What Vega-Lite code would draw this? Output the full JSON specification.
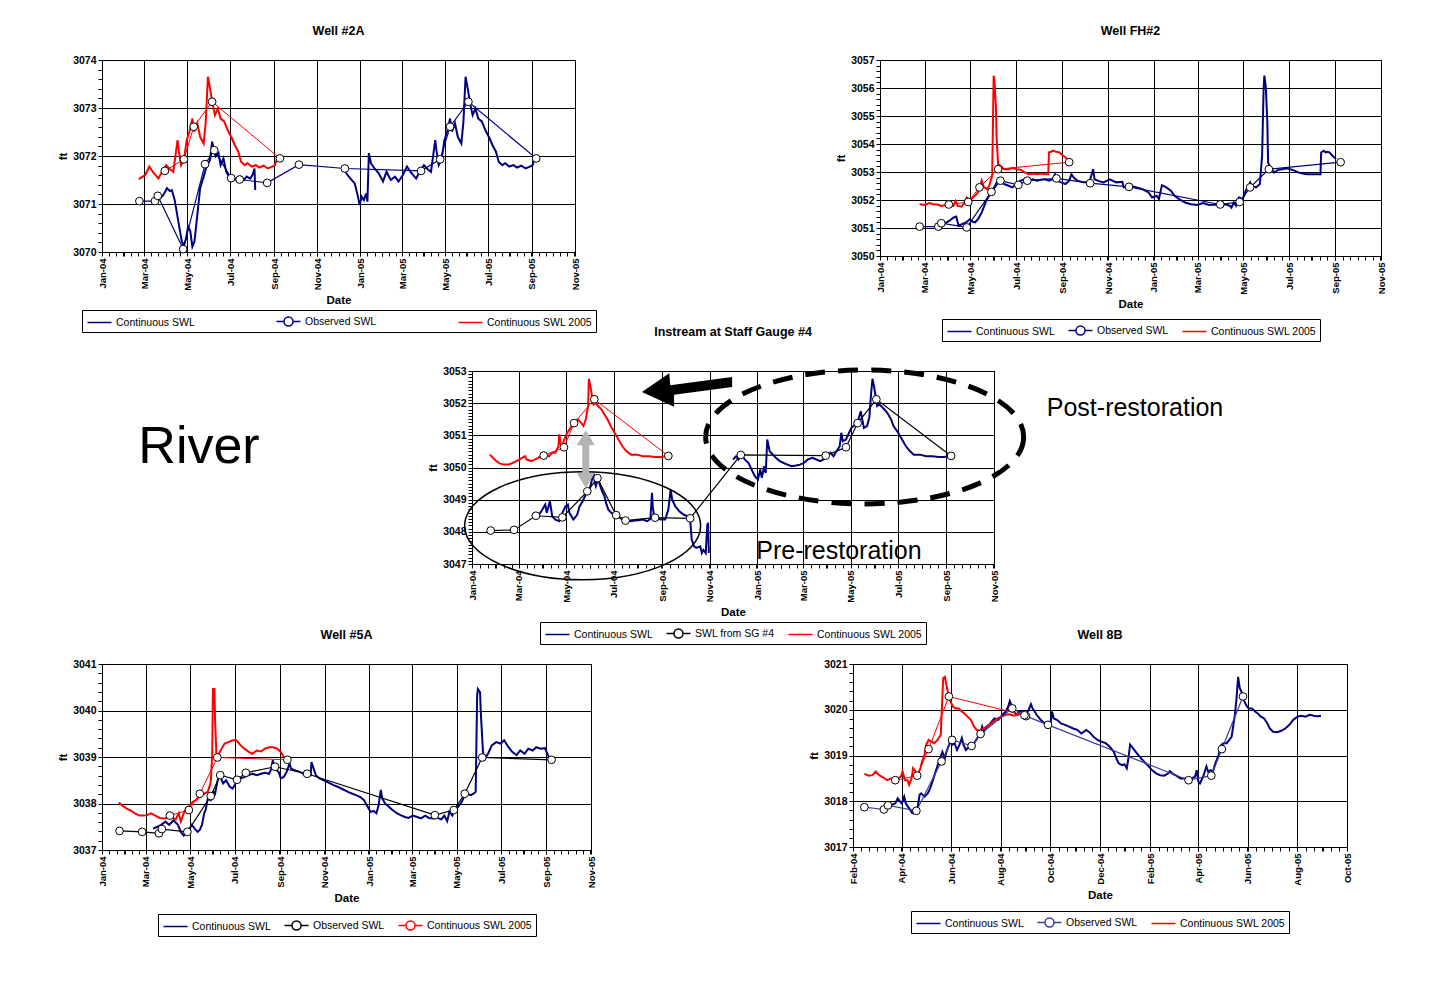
{
"$schema": "https://vega.github.io/schema/vega-lite/v6.json",
"background": "white",
"padding": {"left": 57, "top": 24, "right": 0, "bottom": 0},
"config": {
 "font": "Liberation Sans",
 "view": {"stroke": "black", "strokeWidth": 1},
 "title": {"font": "Liberation Sans", "fontSize": 12.5, "fontWeight": "bold", "color": "black", "offset": 18},
 "axis": {"labelFont": "Liberation Sans", "labelFontSize": 10.5, "labelFontWeight": "bold", "labelColor": "black", "titleFont": "Liberation Sans", "titleFontSize": 11.5, "titleFontWeight": "bold", "titleColor": "black", "domainColor": "black", "tickColor": "black", "gridColor": "black", "gridWidth": 1, "tickSize": 4, "labelPadding": 2, "titlePadding": 4},
 "axisX": {"labelFontSize": 9.5},
 "legend": {"orient": "bottom", "direction": "horizontal", "strokeColor": "black", "padding": 3, "labelFont": "Liberation Sans", "labelFontSize": 10.5, "labelColor": "black", "symbolSize": 225, "symbolStrokeWidth": 1.5, "symbolOffset": 6, "labelOffset": 8, "columnPadding": 10, "offset": 4, "symbolType": "stroke", "layout": {"bottom": {"anchor": "middle"}}}
},
"datasets": {
"w2a": [
{"d":"2004-03-21","v":3071.08,"s":"C"},{"d":"2004-03-28","v":3071.19,"s":"C"},{"d":"2004-04-02","v":3071.33,"s":"C"},{"d":"2004-04-06","v":3071.27,"s":"C"},{"d":"2004-04-09","v":3071.29,"s":"C"},{"d":"2004-04-13","v":3071.08,"s":"C"},{"d":"2004-04-19","v":3070.56,"s":"C"},{"d":"2004-04-23","v":3070.22,"s":"C"},{"d":"2004-04-26","v":3070.13,"s":"C"},{"d":"2004-04-29","v":3070.28,"s":"C"},{"d":"2004-05-02","v":3070.53,"s":"C"},{"d":"2004-05-05","v":3070.44,"s":"C"},{"d":"2004-05-08","v":3070.11,"s":"C"},{"d":"2004-05-11","v":3070.22,"s":"C"},{"d":"2004-05-15","v":3070.77,"s":"C"},{"d":"2004-05-19","v":3071.33,"s":"C"},{"d":"2004-05-24","v":3071.57,"s":"C"},{"d":"2004-05-28","v":3071.78,"s":"C"},{"d":"2004-06-02","v":3071.92,"s":"C"},{"d":"2004-06-05","v":3072.30,"s":"C"},{"d":"2004-06-08","v":3072.09,"s":"C"},{"d":"2004-06-10","v":3071.99,"s":"C"},{"d":"2004-06-14","v":3072.06,"s":"C"},{"d":"2004-06-17","v":3071.81,"s":"C"},{"d":"2004-06-21","v":3071.95,"s":"C"},{"d":"2004-06-25","v":3071.67,"s":"C"},{"d":"2004-06-29","v":3071.57,"s":"C"},{"d":"2004-07-03","v":3071.48,"s":"C"},{"d":"2004-07-07","v":3071.53,"s":"C"},{"d":"2004-07-11","v":3071.47,"s":"C"},{"d":"2004-07-15","v":3071.57,"s":"C"},{"d":"2004-07-20","v":3071.50,"s":"C"},{"d":"2004-07-24","v":3071.57,"s":"C"},{"d":"2004-07-29","v":3071.53,"s":"C"},{"d":"2004-08-01","v":3071.60,"s":"C"},{"d":"2004-08-04","v":3071.74,"s":"C"},{"d":"2004-08-05","v":3071.29,"s":"C"},
{"d":"2004-12-10","v":3071.74,"s":"C","g":2},{"d":"2004-12-12","v":3071.64,"s":"C","g":2},{"d":"2004-12-18","v":3071.53,"s":"C","g":2},{"d":"2004-12-24","v":3071.43,"s":"C","g":2},{"d":"2004-12-28","v":3071.19,"s":"C","g":2},{"d":"2004-12-31","v":3070.98,"s":"C","g":2},{"d":"2005-01-03","v":3071.15,"s":"C","g":2},{"d":"2005-01-06","v":3071.08,"s":"C","g":2},{"d":"2005-01-09","v":3071.22,"s":"C","g":2},{"d":"2005-01-11","v":3071.05,"s":"C","g":2},{"d":"2005-01-13","v":3072.06,"s":"C","g":2},{"d":"2005-01-16","v":3071.85,"s":"C","g":2},{"d":"2005-01-21","v":3071.74,"s":"C","g":2},{"d":"2005-01-27","v":3071.64,"s":"C","g":2},{"d":"2005-02-02","v":3071.47,"s":"C","g":2},{"d":"2005-02-07","v":3071.67,"s":"C","g":2},{"d":"2005-02-13","v":3071.50,"s":"C","g":2},{"d":"2005-02-19","v":3071.57,"s":"C","g":2},{"d":"2005-02-24","v":3071.47,"s":"C","g":2},{"d":"2005-03-02","v":3071.60,"s":"C","g":2},{"d":"2005-03-08","v":3071.78,"s":"C","g":2},{"d":"2005-03-13","v":3071.67,"s":"C","g":2},{"d":"2005-03-21","v":3071.53,"s":"C","g":2},{"d":"2005-03-26","v":3071.67,"s":"C","g":2},{"d":"2005-04-01","v":3071.81,"s":"C","g":2},{"d":"2005-04-05","v":3071.74,"s":"C","g":2},{"d":"2005-04-11","v":3071.67,"s":"C","g":2},{"d":"2005-04-17","v":3072.33,"s":"C","g":2},{"d":"2005-04-19","v":3072.09,"s":"C","g":2},{"d":"2005-04-22","v":3071.81,"s":"C","g":2},{"d":"2005-04-26","v":3071.92,"s":"C","g":2},{"d":"2005-04-30","v":3072.33,"s":"C","g":2},{"d":"2005-05-04","v":3072.51,"s":"C","g":2},{"d":"2005-05-08","v":3072.78,"s":"C","g":2},{"d":"2005-05-11","v":3072.51,"s":"C","g":2},{"d":"2005-05-15","v":3072.68,"s":"C","g":2},{"d":"2005-05-19","v":3072.40,"s":"C","g":2},{"d":"2005-05-24","v":3072.26,"s":"C","g":2},{"d":"2005-05-27","v":3072.72,"s":"C","g":2},{"d":"2005-05-30","v":3073.65,"s":"C","g":2},{"d":"2005-06-02","v":3073.41,"s":"C","g":2},{"d":"2005-06-06","v":3073.06,"s":"C","g":2},{"d":"2005-06-09","v":3072.85,"s":"C","g":2},{"d":"2005-06-13","v":3072.99,"s":"C","g":2},{"d":"2005-06-17","v":3072.78,"s":"C","g":2},{"d":"2005-06-22","v":3072.72,"s":"C","g":2},{"d":"2005-06-27","v":3072.54,"s":"C","g":2},{"d":"2005-07-03","v":3072.37,"s":"C","g":2},{"d":"2005-07-07","v":3072.23,"s":"C","g":2},{"d":"2005-07-12","v":3072.09,"s":"C","g":2},{"d":"2005-07-16","v":3071.88,"s":"C","g":2},{"d":"2005-07-21","v":3071.81,"s":"C","g":2},{"d":"2005-07-25","v":3071.85,"s":"C","g":2},{"d":"2005-07-31","v":3071.78,"s":"C","g":2},{"d":"2005-08-06","v":3071.81,"s":"C","g":2},{"d":"2005-08-11","v":3071.76,"s":"C","g":2},{"d":"2005-08-17","v":3071.80,"s":"C","g":2},{"d":"2005-08-23","v":3071.74,"s":"C","g":2},{"d":"2005-08-29","v":3071.78,"s":"C","g":2},{"d":"2005-09-02","v":3071.81,"s":"C","g":2},{"d":"2005-09-06","v":3071.99,"s":"C","g":2},
{"d":"2004-02-22","v":3071.52,"s":"R"},{"d":"2004-03-02","v":3071.60,"s":"R"},{"d":"2004-03-08","v":3071.78,"s":"R"},{"d":"2004-03-13","v":3071.67,"s":"R"},{"d":"2004-03-21","v":3071.53,"s":"R"},{"d":"2004-03-26","v":3071.67,"s":"R"},{"d":"2004-04-01","v":3071.81,"s":"R"},{"d":"2004-04-05","v":3071.74,"s":"R"},{"d":"2004-04-11","v":3071.67,"s":"R"},{"d":"2004-04-17","v":3072.33,"s":"R"},{"d":"2004-04-19","v":3072.09,"s":"R"},{"d":"2004-04-22","v":3071.81,"s":"R"},{"d":"2004-04-26","v":3071.92,"s":"R"},{"d":"2004-04-30","v":3072.33,"s":"R"},{"d":"2004-05-04","v":3072.51,"s":"R"},{"d":"2004-05-08","v":3072.78,"s":"R"},{"d":"2004-05-11","v":3072.51,"s":"R"},{"d":"2004-05-15","v":3072.68,"s":"R"},{"d":"2004-05-19","v":3072.40,"s":"R"},{"d":"2004-05-24","v":3072.26,"s":"R"},{"d":"2004-05-27","v":3072.72,"s":"R"},{"d":"2004-05-30","v":3073.65,"s":"R"},{"d":"2004-06-02","v":3073.41,"s":"R"},{"d":"2004-06-06","v":3073.06,"s":"R"},{"d":"2004-06-09","v":3072.85,"s":"R"},{"d":"2004-06-13","v":3072.99,"s":"R"},{"d":"2004-06-17","v":3072.78,"s":"R"},{"d":"2004-06-22","v":3072.72,"s":"R"},{"d":"2004-06-27","v":3072.54,"s":"R"},{"d":"2004-07-03","v":3072.37,"s":"R"},{"d":"2004-07-07","v":3072.23,"s":"R"},{"d":"2004-07-12","v":3072.09,"s":"R"},{"d":"2004-07-16","v":3071.88,"s":"R"},{"d":"2004-07-21","v":3071.81,"s":"R"},{"d":"2004-07-25","v":3071.85,"s":"R"},{"d":"2004-07-31","v":3071.78,"s":"R"},{"d":"2004-08-06","v":3071.81,"s":"R"},{"d":"2004-08-11","v":3071.76,"s":"R"},{"d":"2004-08-17","v":3071.80,"s":"R"},{"d":"2004-08-23","v":3071.74,"s":"R"},{"d":"2004-08-29","v":3071.78,"s":"R"},{"d":"2004-09-02","v":3071.81,"s":"R"},{"d":"2004-09-06","v":3071.99,"s":"R"},
{"d":"2004-02-23","v":3071.06,"s":"O"},{"d":"2004-03-16","v":3071.06,"s":"O"},{"d":"2004-03-20","v":3071.17,"s":"O"},{"d":"2004-04-25","v":3070.06,"s":"O"},{"d":"2004-05-26","v":3071.83,"s":"O"},{"d":"2004-06-08","v":3072.12,"s":"O"},{"d":"2004-07-02","v":3071.54,"s":"O"},{"d":"2004-07-14","v":3071.51,"s":"O"},{"d":"2004-08-22","v":3071.44,"s":"O"},{"d":"2004-10-06","v":3071.82,"s":"O"},{"d":"2004-12-10","v":3071.74,"s":"O"},{"d":"2005-03-28","v":3071.69,"s":"O"},{"d":"2005-04-24","v":3071.93,"s":"O"},{"d":"2005-05-08","v":3072.61,"s":"O"},{"d":"2005-06-03","v":3073.13,"s":"O"},{"d":"2005-09-07","v":3071.95,"s":"O"},
{"d":"2004-03-30","v":3071.69,"s":"P"},{"d":"2004-04-26","v":3071.93,"s":"P"},{"d":"2004-05-10","v":3072.61,"s":"P"},{"d":"2004-06-05","v":3073.13,"s":"P"},{"d":"2004-09-09","v":3071.95,"s":"P"}
],
"fh2": [
{"d":"2004-03-19","v":3051.08,"s":"C"},{"d":"2004-03-26","v":3051.14,"s":"C"},{"d":"2004-04-03","v":3051.26,"s":"C"},{"d":"2004-04-08","v":3051.37,"s":"C"},{"d":"2004-04-12","v":3051.41,"s":"C"},{"d":"2004-04-15","v":3051.08,"s":"C"},{"d":"2004-04-25","v":3051.20,"s":"C"},{"d":"2004-04-30","v":3051.31,"s":"C"},{"d":"2004-05-04","v":3051.22,"s":"C"},{"d":"2004-05-07","v":3051.20,"s":"C"},{"d":"2004-05-11","v":3051.31,"s":"C"},{"d":"2004-05-16","v":3051.55,"s":"C"},{"d":"2004-05-22","v":3051.97,"s":"C"},{"d":"2004-05-26","v":3052.15,"s":"C"},{"d":"2004-05-30","v":3052.33,"s":"C"},{"d":"2004-06-03","v":3052.51,"s":"C"},{"d":"2004-06-07","v":3052.74,"s":"C"},{"d":"2004-06-11","v":3052.63,"s":"C"},{"d":"2004-06-15","v":3052.57,"s":"C"},{"d":"2004-06-21","v":3052.51,"s":"C"},{"d":"2004-06-26","v":3052.45,"s":"C"},{"d":"2004-07-02","v":3052.57,"s":"C"},{"d":"2004-07-07","v":3052.69,"s":"C"},{"d":"2004-07-13","v":3052.74,"s":"C"},{"d":"2004-07-18","v":3052.69,"s":"C"},{"d":"2004-07-23","v":3052.74,"s":"C"},{"d":"2004-07-29","v":3052.69,"s":"C"},{"d":"2004-08-03","v":3052.72,"s":"C"},{"d":"2004-08-09","v":3052.74,"s":"C"},{"d":"2004-08-14","v":3052.69,"s":"C"},{"d":"2004-08-19","v":3052.74,"s":"C"},{"d":"2004-08-22","v":3052.92,"s":"C"},{"d":"2004-08-25","v":3052.69,"s":"C"},{"d":"2004-08-30","v":3052.63,"s":"C"},{"d":"2004-09-05","v":3052.57,"s":"C"},{"d":"2004-09-10","v":3052.69,"s":"C"},{"d":"2004-09-13","v":3052.92,"s":"C"},{"d":"2004-09-16","v":3052.80,"s":"C"},{"d":"2004-09-21","v":3052.69,"s":"C"},{"d":"2004-09-29","v":3052.63,"s":"C"},{"d":"2004-10-07","v":3052.63,"s":"C"},{"d":"2004-10-12","v":3053.10,"s":"C"},{"d":"2004-10-14","v":3052.74,"s":"C"},{"d":"2004-10-18","v":3052.69,"s":"C"},{"d":"2004-10-26","v":3052.63,"s":"C"},{"d":"2004-11-03","v":3052.74,"s":"C"},{"d":"2004-11-12","v":3052.63,"s":"C"},{"d":"2004-11-20","v":3052.65,"s":"C"},{"d":"2004-11-22","v":3052.45,"s":"C"},{"d":"2004-12-01","v":3052.51,"s":"C"},{"d":"2004-12-09","v":3052.45,"s":"C"},{"d":"2004-12-17","v":3052.39,"s":"C"},{"d":"2004-12-25","v":3052.27,"s":"C"},{"d":"2004-12-30","v":3052.09,"s":"C"},{"d":"2005-01-05","v":3052.15,"s":"C"},{"d":"2005-01-08","v":3052.03,"s":"C"},{"d":"2005-01-12","v":3052.53,"s":"C"},{"d":"2005-01-18","v":3052.45,"s":"C"},{"d":"2005-01-24","v":3052.33,"s":"C"},{"d":"2005-01-29","v":3052.15,"s":"C"},{"d":"2005-02-04","v":3052.03,"s":"C"},{"d":"2005-02-12","v":3051.91,"s":"C"},{"d":"2005-02-20","v":3051.85,"s":"C"},{"d":"2005-02-28","v":3051.82,"s":"C"},{"d":"2005-03-08","v":3051.89,"s":"C"},{"d":"2005-03-16","v":3051.82,"s":"C"},{"d":"2005-03-25","v":3051.84,"s":"C"},{"d":"2005-04-02","v":3051.79,"s":"C"},{"d":"2005-04-07","v":3051.85,"s":"C"},{"d":"2005-04-13","v":3051.79,"s":"C"},{"d":"2005-04-15","v":3051.73,"s":"C"},{"d":"2005-04-18","v":3051.91,"s":"C"},{"d":"2005-04-21","v":3051.79,"s":"C"},{"d":"2005-04-25","v":3052.09,"s":"C"},{"d":"2005-04-29","v":3052.03,"s":"C"},{"d":"2005-05-02","v":3052.15,"s":"C"},{"d":"2005-05-04","v":3052.33,"s":"C"},{"d":"2005-05-07","v":3052.45,"s":"C"},{"d":"2005-05-10","v":3052.63,"s":"C"},{"d":"2005-05-12","v":3052.51,"s":"C"},{"d":"2005-05-18","v":3052.45,"s":"C"},{"d":"2005-05-23","v":3052.57,"s":"C"},{"d":"2005-05-26","v":3053.58,"s":"C"},{"d":"2005-05-28","v":3055.96,"s":"C"},{"d":"2005-05-29","v":3056.44,"s":"C"},{"d":"2005-05-31","v":3056.02,"s":"C"},{"d":"2005-06-02","v":3054.77,"s":"C"},{"d":"2005-06-03","v":3053.34,"s":"C"},{"d":"2005-06-05","v":3053.22,"s":"C"},{"d":"2005-06-08","v":3053.10,"s":"C"},{"d":"2005-06-11","v":3052.98,"s":"C"},{"d":"2005-06-17","v":3053.08,"s":"C"},{"d":"2005-06-22","v":3053.10,"s":"C"},{"d":"2005-06-28","v":3053.13,"s":"C"},{"d":"2005-07-03","v":3053.10,"s":"C"},{"d":"2005-07-09","v":3053.04,"s":"C"},{"d":"2005-07-14","v":3052.98,"s":"C"},{"d":"2005-07-19","v":3052.95,"s":"C"},{"d":"2005-07-25","v":3052.92,"s":"C"},{"d":"2005-07-30","v":3052.92,"s":"C"},{"d":"2005-08-07","v":3052.92,"s":"C"},{"d":"2005-08-12","v":3052.92,"s":"C"},{"d":"2005-08-13","v":3053.70,"s":"C"},{"d":"2005-08-16","v":3053.76,"s":"C"},{"d":"2005-08-19","v":3053.70,"s":"C"},{"d":"2005-08-21","v":3053.72,"s":"C"},{"d":"2005-08-24","v":3053.70,"s":"C"},{"d":"2005-08-28","v":3053.58,"s":"C"},{"d":"2005-09-02","v":3053.46,"s":"C"},
{"d":"2004-02-23","v":3051.85,"s":"R"},{"d":"2004-03-01","v":3051.82,"s":"R"},{"d":"2004-03-07","v":3051.89,"s":"R"},{"d":"2004-03-12","v":3051.85,"s":"R"},{"d":"2004-03-18","v":3051.84,"s":"R"},{"d":"2004-03-23","v":3051.79,"s":"R"},{"d":"2004-03-29","v":3051.82,"s":"R"},{"d":"2004-04-03","v":3051.84,"s":"R"},{"d":"2004-04-08","v":3051.79,"s":"R"},{"d":"2004-04-11","v":3051.97,"s":"R"},{"d":"2004-04-14","v":3051.79,"s":"R"},{"d":"2004-04-19","v":3051.76,"s":"R"},{"d":"2004-04-23","v":3051.91,"s":"R"},{"d":"2004-04-26","v":3052.09,"s":"R"},{"d":"2004-04-30","v":3051.97,"s":"R"},{"d":"2004-05-04","v":3052.09,"s":"R"},{"d":"2004-05-07","v":3052.15,"s":"R"},{"d":"2004-05-11","v":3052.27,"s":"R"},{"d":"2004-05-14","v":3052.51,"s":"R"},{"d":"2004-05-16","v":3052.69,"s":"R"},{"d":"2004-05-19","v":3052.45,"s":"R"},{"d":"2004-05-23","v":3052.39,"s":"R"},{"d":"2004-05-26","v":3052.51,"s":"R"},{"d":"2004-05-30","v":3052.86,"s":"R"},{"d":"2004-06-01","v":3056.44,"s":"R"},{"d":"2004-06-02","v":3056.26,"s":"R"},{"d":"2004-06-04","v":3055.37,"s":"R"},{"d":"2004-06-05","v":3054.18,"s":"R"},{"d":"2004-06-07","v":3053.28,"s":"R"},{"d":"2004-06-10","v":3053.22,"s":"R"},{"d":"2004-06-15","v":3053.10,"s":"R"},{"d":"2004-06-21","v":3053.10,"s":"R"},{"d":"2004-06-26","v":3053.14,"s":"R"},{"d":"2004-07-02","v":3053.10,"s":"R"},{"d":"2004-07-07","v":3053.08,"s":"R"},{"d":"2004-07-13","v":3052.98,"s":"R"},{"d":"2004-07-18","v":3052.92,"s":"R"},{"d":"2004-07-23","v":3052.95,"s":"R"},{"d":"2004-07-29","v":3052.92,"s":"R"},{"d":"2004-08-03","v":3052.95,"s":"R"},{"d":"2004-08-09","v":3052.92,"s":"R"},{"d":"2004-08-13","v":3052.92,"s":"R"},{"d":"2004-08-14","v":3053.70,"s":"R"},{"d":"2004-08-17","v":3053.72,"s":"R"},{"d":"2004-08-19","v":3053.76,"s":"R"},{"d":"2004-08-24","v":3053.72,"s":"R"},{"d":"2004-08-28","v":3053.70,"s":"R"},{"d":"2004-09-01","v":3053.60,"s":"R"},{"d":"2004-09-05","v":3053.52,"s":"R"},{"d":"2004-09-07","v":3053.46,"s":"R"},
{"d":"2004-02-23","v":3051.05,"s":"O"},{"d":"2004-03-19","v":3051.05,"s":"O"},{"d":"2004-03-23","v":3051.17,"s":"O"},{"d":"2004-04-26","v":3051.02,"s":"O"},{"d":"2004-05-29","v":3052.29,"s":"O"},{"d":"2004-06-10","v":3052.69,"s":"O"},{"d":"2004-07-04","v":3052.54,"s":"O"},{"d":"2004-07-16","v":3052.69,"s":"O"},{"d":"2004-08-24","v":3052.77,"s":"O"},{"d":"2004-10-08","v":3052.60,"s":"O"},{"d":"2004-11-29","v":3052.47,"s":"O"},{"d":"2005-03-31","v":3051.84,"s":"O"},{"d":"2005-04-26","v":3051.93,"s":"O"},{"d":"2005-05-10","v":3052.45,"s":"O"},{"d":"2005-06-04","v":3053.10,"s":"O"},{"d":"2005-09-08","v":3053.35,"s":"O"},
{"d":"2004-04-02","v":3051.84,"s":"P"},{"d":"2004-04-28","v":3051.93,"s":"P"},{"d":"2004-05-13","v":3052.45,"s":"P"},{"d":"2004-06-07","v":3053.10,"s":"P"},{"d":"2004-09-10","v":3053.35,"s":"P"}
],
"sg4": [
{"d":"2004-03-24","v":3048.43,"s":"C"},{"d":"2004-03-30","v":3048.64,"s":"C"},{"d":"2004-04-04","v":3048.85,"s":"C"},{"d":"2004-04-06","v":3048.59,"s":"C"},{"d":"2004-04-10","v":3048.95,"s":"C"},{"d":"2004-04-13","v":3048.48,"s":"C"},{"d":"2004-04-17","v":3048.38,"s":"C"},{"d":"2004-04-22","v":3048.33,"s":"C"},{"d":"2004-04-26","v":3048.59,"s":"C"},{"d":"2004-04-30","v":3048.79,"s":"C"},{"d":"2004-05-03","v":3048.85,"s":"C"},{"d":"2004-05-05","v":3048.59,"s":"C"},{"d":"2004-05-10","v":3048.38,"s":"C"},{"d":"2004-05-15","v":3048.53,"s":"C"},{"d":"2004-05-18","v":3048.79,"s":"C"},{"d":"2004-05-22","v":3048.95,"s":"C"},{"d":"2004-05-26","v":3049.16,"s":"C"},{"d":"2004-05-29","v":3049.21,"s":"C"},{"d":"2004-06-01","v":3049.42,"s":"C"},{"d":"2004-06-05","v":3049.83,"s":"C"},{"d":"2004-06-07","v":3049.52,"s":"C"},{"d":"2004-06-08","v":3049.42,"s":"C"},{"d":"2004-06-11","v":3049.68,"s":"C"},{"d":"2004-06-13","v":3049.47,"s":"C"},{"d":"2004-06-16","v":3049.26,"s":"C"},{"d":"2004-06-19","v":3049.11,"s":"C"},{"d":"2004-06-21","v":3048.90,"s":"C"},{"d":"2004-06-24","v":3048.69,"s":"C"},{"d":"2004-06-28","v":3048.59,"s":"C"},{"d":"2004-07-02","v":3048.53,"s":"C"},{"d":"2004-07-07","v":3048.48,"s":"C"},{"d":"2004-07-12","v":3048.38,"s":"C"},{"d":"2004-07-17","v":3048.35,"s":"C"},{"d":"2004-07-23","v":3048.33,"s":"C"},{"d":"2004-07-28","v":3048.35,"s":"C"},{"d":"2004-08-02","v":3048.36,"s":"C"},{"d":"2004-08-07","v":3048.38,"s":"C"},{"d":"2004-08-13","v":3048.33,"s":"C"},{"d":"2004-08-17","v":3048.40,"s":"C"},{"d":"2004-08-19","v":3049.21,"s":"C"},{"d":"2004-08-20","v":3048.79,"s":"C"},{"d":"2004-08-22","v":3048.43,"s":"C"},{"d":"2004-08-26","v":3048.40,"s":"C"},{"d":"2004-08-31","v":3048.38,"s":"C"},{"d":"2004-09-05","v":3048.38,"s":"C"},{"d":"2004-09-09","v":3048.69,"s":"C"},{"d":"2004-09-12","v":3049.31,"s":"C"},{"d":"2004-09-14","v":3049.00,"s":"C"},{"d":"2004-09-18","v":3048.79,"s":"C"},{"d":"2004-09-23","v":3048.64,"s":"C"},{"d":"2004-09-29","v":3048.53,"s":"C"},{"d":"2004-10-04","v":3048.48,"s":"C"},{"d":"2004-10-07","v":3048.38,"s":"C"},{"d":"2004-10-09","v":3047.76,"s":"C"},{"d":"2004-10-12","v":3047.55,"s":"C"},{"d":"2004-10-15","v":3047.50,"s":"C"},{"d":"2004-10-20","v":3047.55,"s":"C"},{"d":"2004-10-22","v":3047.34,"s":"C"},{"d":"2004-10-24","v":3047.44,"s":"C"},{"d":"2004-10-27","v":3047.34,"s":"C"},{"d":"2004-10-29","v":3048.22,"s":"C"},{"d":"2004-10-30","v":3048.28,"s":"C"},{"d":"2004-10-31","v":3047.34,"s":"C"},
{"d":"2004-12-01","v":3050.25,"s":"C","g":2},{"d":"2004-12-05","v":3050.35,"s":"C","g":2},{"d":"2004-12-08","v":3050.25,"s":"C","g":2},{"d":"2004-12-12","v":3050.40,"s":"C","g":2},{"d":"2004-12-16","v":3050.25,"s":"C","g":2},{"d":"2004-12-21","v":3050.14,"s":"C","g":2},{"d":"2004-12-26","v":3049.88,"s":"C","g":2},{"d":"2004-12-29","v":3049.73,"s":"C","g":2},{"d":"2005-01-02","v":3049.63,"s":"C","g":2},{"d":"2005-01-05","v":3049.94,"s":"C","g":2},{"d":"2005-01-07","v":3049.68,"s":"C","g":2},{"d":"2005-01-10","v":3050.04,"s":"C","g":2},{"d":"2005-01-12","v":3049.83,"s":"C","g":2},{"d":"2005-01-14","v":3050.87,"s":"C","g":2},{"d":"2005-01-17","v":3050.51,"s":"C","g":2},{"d":"2005-01-19","v":3050.46,"s":"C","g":2},{"d":"2005-01-25","v":3050.30,"s":"C","g":2},{"d":"2005-01-30","v":3050.20,"s":"C","g":2},{"d":"2005-02-04","v":3050.14,"s":"C","g":2},{"d":"2005-02-09","v":3050.09,"s":"C","g":2},{"d":"2005-02-14","v":3050.04,"s":"C","g":2},{"d":"2005-02-20","v":3050.06,"s":"C","g":2},{"d":"2005-02-25","v":3050.09,"s":"C","g":2},{"d":"2005-03-02","v":3050.14,"s":"C","g":2},{"d":"2005-03-07","v":3050.25,"s":"C","g":2},{"d":"2005-03-13","v":3050.30,"s":"C","g":2},{"d":"2005-03-18","v":3050.25,"s":"C","g":2},{"d":"2005-03-23","v":3050.20,"s":"C","g":2},{"d":"2005-03-27","v":3050.25,"s":"C","g":2},{"d":"2005-03-31","v":3050.35,"s":"C","g":2},{"d":"2005-04-05","v":3050.46,"s":"C","g":2},{"d":"2005-04-09","v":3050.35,"s":"C","g":2},{"d":"2005-04-13","v":3050.51,"s":"C","g":2},{"d":"2005-04-17","v":3050.66,"s":"C","g":2},{"d":"2005-04-19","v":3051.08,"s":"C","g":2},{"d":"2005-04-21","v":3050.82,"s":"C","g":2},{"d":"2005-04-25","v":3050.87,"s":"C","g":2},{"d":"2005-04-29","v":3051.08,"s":"C","g":2},{"d":"2005-05-02","v":3051.23,"s":"C","g":2},{"d":"2005-05-07","v":3051.34,"s":"C","g":2},{"d":"2005-05-11","v":3051.49,"s":"C","g":2},{"d":"2005-05-14","v":3051.75,"s":"C","g":2},{"d":"2005-05-18","v":3051.23,"s":"C","g":2},{"d":"2005-05-22","v":3051.29,"s":"C","g":2},{"d":"2005-05-25","v":3051.55,"s":"C","g":2},{"d":"2005-05-27","v":3052.22,"s":"C","g":2},{"d":"2005-05-29","v":3052.76,"s":"C","g":2},{"d":"2005-05-31","v":3052.53,"s":"C","g":2},{"d":"2005-06-02","v":3052.22,"s":"C","g":2},{"d":"2005-06-04","v":3051.91,"s":"C","g":2},{"d":"2005-06-07","v":3051.96,"s":"C","g":2},{"d":"2005-06-10","v":3051.89,"s":"C","g":2},{"d":"2005-06-13","v":3051.81,"s":"C","g":2},{"d":"2005-06-17","v":3051.70,"s":"C","g":2},{"d":"2005-06-22","v":3051.49,"s":"C","g":2},{"d":"2005-06-25","v":3051.29,"s":"C","g":2},{"d":"2005-07-01","v":3051.08,"s":"C","g":2},{"d":"2005-07-06","v":3050.87,"s":"C","g":2},{"d":"2005-07-11","v":3050.66,"s":"C","g":2},{"d":"2005-07-16","v":3050.51,"s":"C","g":2},{"d":"2005-07-21","v":3050.40,"s":"C","g":2},{"d":"2005-07-29","v":3050.40,"s":"C","g":2},{"d":"2005-08-06","v":3050.35,"s":"C","g":2},{"d":"2005-08-14","v":3050.35,"s":"C","g":2},{"d":"2005-08-22","v":3050.33,"s":"C","g":2},{"d":"2005-08-30","v":3050.33,"s":"C","g":2},{"d":"2005-09-04","v":3050.37,"s":"C","g":2},
{"d":"2004-01-24","v":3050.40,"s":"R"},{"d":"2004-01-28","v":3050.30,"s":"R"},{"d":"2004-02-01","v":3050.20,"s":"R"},{"d":"2004-02-06","v":3050.12,"s":"R"},{"d":"2004-02-11","v":3050.09,"s":"R"},{"d":"2004-02-17","v":3050.09,"s":"R"},{"d":"2004-02-22","v":3050.14,"s":"R"},{"d":"2004-02-27","v":3050.20,"s":"R"},{"d":"2004-03-03","v":3050.27,"s":"R"},{"d":"2004-03-09","v":3050.35,"s":"R"},{"d":"2004-03-11","v":3050.25,"s":"R"},{"d":"2004-03-17","v":3050.20,"s":"R"},{"d":"2004-03-22","v":3050.25,"s":"R"},{"d":"2004-03-26","v":3050.30,"s":"R"},{"d":"2004-03-30","v":3050.37,"s":"R"},{"d":"2004-04-04","v":3050.40,"s":"R"},{"d":"2004-04-09","v":3050.35,"s":"R"},{"d":"2004-04-13","v":3050.46,"s":"R"},{"d":"2004-04-17","v":3050.46,"s":"R"},{"d":"2004-04-21","v":3050.66,"s":"R"},{"d":"2004-04-22","v":3051.03,"s":"R"},{"d":"2004-04-25","v":3050.56,"s":"R"},{"d":"2004-04-27","v":3050.77,"s":"R"},{"d":"2004-05-01","v":3051.03,"s":"R"},{"d":"2004-05-05","v":3051.18,"s":"R"},{"d":"2004-05-08","v":3051.29,"s":"R"},{"d":"2004-05-10","v":3051.44,"s":"R"},{"d":"2004-05-13","v":3051.39,"s":"R"},{"d":"2004-05-16","v":3051.49,"s":"R"},{"d":"2004-05-20","v":3051.39,"s":"R"},{"d":"2004-05-23","v":3051.29,"s":"R"},{"d":"2004-05-26","v":3051.49,"s":"R"},{"d":"2004-05-29","v":3051.91,"s":"R"},{"d":"2004-05-30","v":3052.76,"s":"R"},{"d":"2004-06-01","v":3052.53,"s":"R"},{"d":"2004-06-03","v":3052.22,"s":"R"},{"d":"2004-06-05","v":3051.96,"s":"R"},{"d":"2004-06-08","v":3052.01,"s":"R"},{"d":"2004-06-11","v":3051.91,"s":"R"},{"d":"2004-06-15","v":3051.81,"s":"R"},{"d":"2004-06-19","v":3051.65,"s":"R"},{"d":"2004-06-23","v":3051.49,"s":"R"},{"d":"2004-06-27","v":3051.29,"s":"R"},{"d":"2004-07-02","v":3051.08,"s":"R"},{"d":"2004-07-07","v":3050.87,"s":"R"},{"d":"2004-07-12","v":3050.66,"s":"R"},{"d":"2004-07-17","v":3050.51,"s":"R"},{"d":"2004-07-23","v":3050.40,"s":"R"},{"d":"2004-07-31","v":3050.40,"s":"R"},{"d":"2004-08-07","v":3050.35,"s":"R"},{"d":"2004-08-15","v":3050.35,"s":"R"},{"d":"2004-08-23","v":3050.33,"s":"R"},{"d":"2004-08-31","v":3050.33,"s":"R"},{"d":"2004-09-05","v":3050.35,"s":"R"},
{"d":"2004-01-25","v":3048.04,"s":"O"},{"d":"2004-02-24","v":3048.06,"s":"O"},{"d":"2004-03-23","v":3048.50,"s":"O"},{"d":"2004-04-26","v":3048.45,"s":"O"},{"d":"2004-05-28","v":3049.26,"s":"O"},{"d":"2004-06-10","v":3049.67,"s":"O"},{"d":"2004-07-04","v":3048.52,"s":"O"},{"d":"2004-07-16","v":3048.35,"s":"O"},{"d":"2004-08-23","v":3048.44,"s":"O"},{"d":"2004-10-07","v":3048.42,"s":"O"},{"d":"2004-12-11","v":3050.39,"s":"O"},{"d":"2005-03-30","v":3050.37,"s":"O"},{"d":"2005-04-25","v":3050.63,"s":"O"},{"d":"2005-05-10","v":3051.38,"s":"O"},{"d":"2005-06-03","v":3052.12,"s":"O"},{"d":"2005-09-07","v":3050.36,"s":"O"},
{"d":"2004-04-02","v":3050.37,"s":"P"},{"d":"2004-04-28","v":3050.63,"s":"P"},{"d":"2004-05-11","v":3051.38,"s":"P"},{"d":"2004-06-06","v":3052.12,"s":"P"},{"d":"2004-09-09","v":3050.36,"s":"P"}
],
"ann": [
{"d":"2004-05-22","v":3048.19,"k":"e1"},
{"d":"2005-05-19","v":3050.95,"k":"e2"},
{"d":"2004-10-03","v":3052.41,"k":"arr"},
{"d":"2004-05-26","v":3050.26,"k":"dbl"},
{"d":"2005-04-16","v":3047.4,"k":"txt","t":"Pre-restoration"},
{"d":"2006-05-01","v":3051.85,"k":"txt","t":"Post-restoration"}
],
"w5a": [
{"d":"2004-03-11","v":3037.46,"s":"C"},{"d":"2004-03-17","v":3037.50,"s":"C"},{"d":"2004-03-22","v":3037.54,"s":"C"},{"d":"2004-03-28","v":3037.61,"s":"C"},{"d":"2004-04-02","v":3037.54,"s":"C"},{"d":"2004-04-08","v":3037.64,"s":"C"},{"d":"2004-04-14","v":3037.54,"s":"C"},{"d":"2004-04-18","v":3037.39,"s":"C"},{"d":"2004-04-22","v":3037.31,"s":"C"},{"d":"2004-04-26","v":3037.36,"s":"C"},{"d":"2004-04-30","v":3037.46,"s":"C"},{"d":"2004-05-03","v":3037.54,"s":"C"},{"d":"2004-05-07","v":3037.46,"s":"C"},{"d":"2004-05-11","v":3037.39,"s":"C"},{"d":"2004-05-14","v":3037.43,"s":"C"},{"d":"2004-05-17","v":3037.54,"s":"C"},{"d":"2004-05-20","v":3037.79,"s":"C"},{"d":"2004-05-22","v":3037.86,"s":"C"},{"d":"2004-05-25","v":3038.11,"s":"C"},{"d":"2004-05-29","v":3038.07,"s":"C"},{"d":"2004-06-02","v":3038.25,"s":"C"},{"d":"2004-06-04","v":3038.21,"s":"C"},{"d":"2004-06-07","v":3038.46,"s":"C"},{"d":"2004-06-09","v":3038.61,"s":"C"},{"d":"2004-06-12","v":3038.54,"s":"C"},{"d":"2004-06-15","v":3038.43,"s":"C"},{"d":"2004-06-19","v":3038.50,"s":"C"},{"d":"2004-06-24","v":3038.36,"s":"C"},{"d":"2004-06-28","v":3038.32,"s":"C"},{"d":"2004-07-03","v":3038.46,"s":"C"},{"d":"2004-07-09","v":3038.54,"s":"C"},{"d":"2004-07-14","v":3038.57,"s":"C"},{"d":"2004-07-20","v":3038.61,"s":"C"},{"d":"2004-07-25","v":3038.64,"s":"C"},{"d":"2004-07-31","v":3038.61,"s":"C"},{"d":"2004-08-06","v":3038.64,"s":"C"},{"d":"2004-08-11","v":3038.66,"s":"C"},{"d":"2004-08-17","v":3038.64,"s":"C"},{"d":"2004-08-20","v":3038.75,"s":"C"},{"d":"2004-08-22","v":3038.93,"s":"C"},{"d":"2004-08-25","v":3038.75,"s":"C"},{"d":"2004-08-30","v":3038.68,"s":"C"},{"d":"2004-09-02","v":3038.54,"s":"C"},{"d":"2004-09-06","v":3038.57,"s":"C"},{"d":"2004-09-10","v":3038.68,"s":"C"},{"d":"2004-09-14","v":3038.86,"s":"C"},{"d":"2004-09-16","v":3038.75,"s":"C"},{"d":"2004-09-22","v":3038.71,"s":"C"},{"d":"2004-09-28","v":3038.68,"s":"C"},{"d":"2004-10-03","v":3038.64,"s":"C"},{"d":"2004-10-09","v":3038.61,"s":"C"},{"d":"2004-10-13","v":3038.61,"s":"C"},{"d":"2004-10-14","v":3038.89,"s":"C"},{"d":"2004-10-17","v":3038.75,"s":"C"},{"d":"2004-10-20","v":3038.61,"s":"C"},{"d":"2004-10-25","v":3038.54,"s":"C"},{"d":"2004-10-31","v":3038.50,"s":"C"},{"d":"2004-11-05","v":3038.46,"s":"C"},{"d":"2004-11-14","v":3038.39,"s":"C"},{"d":"2004-11-19","v":3038.36,"s":"C"},{"d":"2004-11-28","v":3038.29,"s":"C"},{"d":"2004-12-03","v":3038.25,"s":"C"},{"d":"2004-12-09","v":3038.21,"s":"C"},{"d":"2004-12-14","v":3038.18,"s":"C"},{"d":"2004-12-20","v":3038.14,"s":"C"},{"d":"2004-12-25","v":3038.07,"s":"C"},{"d":"2004-12-30","v":3037.93,"s":"C"},{"d":"2005-01-03","v":3037.82,"s":"C"},{"d":"2005-01-07","v":3037.84,"s":"C"},{"d":"2005-01-11","v":3037.79,"s":"C"},{"d":"2005-01-14","v":3037.96,"s":"C"},{"d":"2005-01-17","v":3038.29,"s":"C"},{"d":"2005-01-19","v":3038.11,"s":"C"},{"d":"2005-01-23","v":3038.00,"s":"C"},{"d":"2005-01-28","v":3037.93,"s":"C"},{"d":"2005-02-02","v":3037.86,"s":"C"},{"d":"2005-02-08","v":3037.79,"s":"C"},{"d":"2005-02-13","v":3037.75,"s":"C"},{"d":"2005-02-19","v":3037.71,"s":"C"},{"d":"2005-02-24","v":3037.69,"s":"C"},{"d":"2005-03-02","v":3037.74,"s":"C"},{"d":"2005-03-08","v":3037.71,"s":"C"},{"d":"2005-03-13","v":3037.68,"s":"C"},{"d":"2005-03-19","v":3037.74,"s":"C"},{"d":"2005-03-24","v":3037.69,"s":"C"},{"d":"2005-03-30","v":3037.68,"s":"C"},{"d":"2005-04-04","v":3037.69,"s":"C"},{"d":"2005-04-10","v":3037.66,"s":"C"},{"d":"2005-04-14","v":3037.74,"s":"C"},{"d":"2005-04-18","v":3037.62,"s":"C"},{"d":"2005-04-21","v":3037.82,"s":"C"},{"d":"2005-04-25","v":3037.74,"s":"C"},{"d":"2005-04-29","v":3037.89,"s":"C"},{"d":"2005-05-03","v":3037.93,"s":"C"},{"d":"2005-05-08","v":3038.04,"s":"C"},{"d":"2005-05-12","v":3038.18,"s":"C"},{"d":"2005-05-16","v":3038.21,"s":"C"},{"d":"2005-05-20","v":3038.18,"s":"C"},{"d":"2005-05-24","v":3038.21,"s":"C"},{"d":"2005-05-27","v":3038.25,"s":"C"},{"d":"2005-05-29","v":3040.32,"s":"C"},{"d":"2005-05-30","v":3040.46,"s":"C"},{"d":"2005-06-02","v":3040.39,"s":"C"},{"d":"2005-06-03","v":3039.96,"s":"C"},{"d":"2005-06-06","v":3039.11,"s":"C"},{"d":"2005-06-08","v":3038.96,"s":"C"},{"d":"2005-06-13","v":3039.07,"s":"C"},{"d":"2005-06-18","v":3039.25,"s":"C"},{"d":"2005-06-24","v":3039.32,"s":"C"},{"d":"2005-06-30","v":3039.29,"s":"C"},{"d":"2005-07-05","v":3039.36,"s":"C"},{"d":"2005-07-11","v":3039.21,"s":"C"},{"d":"2005-07-16","v":3039.11,"s":"C"},{"d":"2005-07-22","v":3039.04,"s":"C"},{"d":"2005-07-27","v":3039.14,"s":"C"},{"d":"2005-08-02","v":3039.07,"s":"C"},{"d":"2005-08-07","v":3039.18,"s":"C"},{"d":"2005-08-13","v":3039.14,"s":"C"},{"d":"2005-08-18","v":3039.21,"s":"C"},{"d":"2005-08-24","v":3039.18,"s":"C"},{"d":"2005-08-30","v":3039.19,"s":"C"},{"d":"2005-09-03","v":3039.04,"s":"C"},{"d":"2005-09-06","v":3038.96,"s":"C"},
{"d":"2004-01-24","v":3038.02,"s":"R"},{"d":"2004-01-29","v":3037.95,"s":"R"},{"d":"2004-02-04","v":3037.89,"s":"R"},{"d":"2004-02-10","v":3037.84,"s":"R"},{"d":"2004-02-15","v":3037.79,"s":"R"},{"d":"2004-02-21","v":3037.74,"s":"R"},{"d":"2004-02-26","v":3037.74,"s":"R"},{"d":"2004-03-03","v":3037.75,"s":"R"},{"d":"2004-03-08","v":3037.79,"s":"R"},{"d":"2004-03-14","v":3037.74,"s":"R"},{"d":"2004-03-20","v":3037.69,"s":"R"},{"d":"2004-03-25","v":3037.68,"s":"R"},{"d":"2004-03-31","v":3037.69,"s":"R"},{"d":"2004-04-05","v":3037.71,"s":"R"},{"d":"2004-04-11","v":3037.66,"s":"R"},{"d":"2004-04-15","v":3037.79,"s":"R"},{"d":"2004-04-18","v":3037.61,"s":"R"},{"d":"2004-04-22","v":3037.79,"s":"R"},{"d":"2004-04-25","v":3037.89,"s":"R"},{"d":"2004-04-27","v":3037.86,"s":"R"},{"d":"2004-04-30","v":3037.96,"s":"R"},{"d":"2004-05-05","v":3038.04,"s":"R"},{"d":"2004-05-09","v":3038.07,"s":"R"},{"d":"2004-05-11","v":3038.11,"s":"R"},{"d":"2004-05-16","v":3038.18,"s":"R"},{"d":"2004-05-20","v":3038.21,"s":"R"},{"d":"2004-05-25","v":3038.25,"s":"R"},{"d":"2004-05-29","v":3038.46,"s":"R"},{"d":"2004-05-31","v":3039.04,"s":"R"},{"d":"2004-06-01","v":3040.46,"s":"R"},{"d":"2004-06-03","v":3040.46,"s":"R"},{"d":"2004-06-04","v":3039.75,"s":"R"},{"d":"2004-06-06","v":3038.96,"s":"R"},{"d":"2004-06-08","v":3039.04,"s":"R"},{"d":"2004-06-13","v":3039.18,"s":"R"},{"d":"2004-06-17","v":3039.29,"s":"R"},{"d":"2004-06-22","v":3039.32,"s":"R"},{"d":"2004-06-28","v":3039.36,"s":"R"},{"d":"2004-07-03","v":3039.36,"s":"R"},{"d":"2004-07-09","v":3039.25,"s":"R"},{"d":"2004-07-14","v":3039.18,"s":"R"},{"d":"2004-07-20","v":3039.11,"s":"R"},{"d":"2004-07-25","v":3039.07,"s":"R"},{"d":"2004-07-31","v":3039.14,"s":"R"},{"d":"2004-08-06","v":3039.12,"s":"R"},{"d":"2004-08-11","v":3039.18,"s":"R"},{"d":"2004-08-17","v":3039.21,"s":"R"},{"d":"2004-08-22","v":3039.21,"s":"R"},{"d":"2004-08-28","v":3039.18,"s":"R"},{"d":"2004-09-02","v":3039.11,"s":"R"},{"d":"2004-09-06","v":3039.00,"s":"R"},
{"d":"2004-01-25","v":3037.41,"s":"O"},{"d":"2004-02-25","v":3037.39,"s":"O"},{"d":"2004-03-19","v":3037.36,"s":"O"},{"d":"2004-03-23","v":3037.45,"s":"O"},{"d":"2004-04-27","v":3037.39,"s":"O"},{"d":"2004-05-29","v":3038.16,"s":"O"},{"d":"2004-06-11","v":3038.61,"s":"O"},{"d":"2004-07-04","v":3038.51,"s":"O"},{"d":"2004-07-16","v":3038.66,"s":"O"},{"d":"2004-08-25","v":3038.79,"s":"O"},{"d":"2004-10-08","v":3038.64,"s":"O"},{"d":"2005-04-01","v":3037.75,"s":"O"},{"d":"2005-04-27","v":3037.86,"s":"O"},{"d":"2005-05-12","v":3038.21,"s":"O"},{"d":"2005-06-05","v":3038.99,"s":"O"},{"d":"2005-09-08","v":3038.94,"s":"O"},
{"d":"2004-04-03","v":3037.74,"s":"P"},{"d":"2004-04-29","v":3037.86,"s":"P"},{"d":"2004-05-14","v":3038.21,"s":"P"},{"d":"2004-06-07","v":3038.99,"s":"P"},{"d":"2004-09-11","v":3038.94,"s":"P"}
],
"w8b": [
{"d":"2004-03-16","v":3017.88,"s":"C"},{"d":"2004-03-20","v":3017.92,"s":"C"},{"d":"2004-03-24","v":3017.95,"s":"C"},{"d":"2004-03-27","v":3018.06,"s":"C"},{"d":"2004-03-30","v":3017.99,"s":"C"},{"d":"2004-04-01","v":3017.95,"s":"C"},{"d":"2004-04-04","v":3018.10,"s":"C"},{"d":"2004-04-06","v":3017.95,"s":"C"},{"d":"2004-04-10","v":3017.85,"s":"C"},{"d":"2004-04-14","v":3017.74,"s":"C"},{"d":"2004-04-18","v":3017.74,"s":"C"},{"d":"2004-04-20","v":3017.81,"s":"C"},{"d":"2004-04-23","v":3018.14,"s":"C"},{"d":"2004-04-25","v":3018.17,"s":"C"},{"d":"2004-04-29","v":3018.10,"s":"C"},{"d":"2004-05-03","v":3018.17,"s":"C"},{"d":"2004-05-06","v":3018.28,"s":"C"},{"d":"2004-05-10","v":3018.50,"s":"C"},{"d":"2004-05-14","v":3018.72,"s":"C"},{"d":"2004-05-18","v":3018.94,"s":"C"},{"d":"2004-05-21","v":3019.08,"s":"C"},{"d":"2004-05-24","v":3018.94,"s":"C"},{"d":"2004-05-26","v":3019.08,"s":"C"},{"d":"2004-05-29","v":3019.23,"s":"C"},{"d":"2004-05-31","v":3019.34,"s":"C"},{"d":"2004-06-02","v":3019.23,"s":"C"},{"d":"2004-06-05","v":3019.27,"s":"C"},{"d":"2004-06-08","v":3019.12,"s":"C"},{"d":"2004-06-11","v":3019.23,"s":"C"},{"d":"2004-06-14","v":3019.38,"s":"C"},{"d":"2004-06-16","v":3019.23,"s":"C"},{"d":"2004-06-19","v":3019.12,"s":"C"},{"d":"2004-06-23","v":3019.19,"s":"C"},{"d":"2004-06-26","v":3019.16,"s":"C"},{"d":"2004-06-29","v":3019.27,"s":"C"},{"d":"2004-07-03","v":3019.38,"s":"C"},{"d":"2004-07-06","v":3019.45,"s":"C"},{"d":"2004-07-09","v":3019.63,"s":"C"},{"d":"2004-07-11","v":3019.52,"s":"C"},{"d":"2004-07-15","v":3019.63,"s":"C"},{"d":"2004-07-19","v":3019.70,"s":"C"},{"d":"2004-07-24","v":3019.81,"s":"C"},{"d":"2004-07-29","v":3019.78,"s":"C"},{"d":"2004-08-03","v":3019.89,"s":"C"},{"d":"2004-08-07","v":3019.96,"s":"C"},{"d":"2004-08-10","v":3020.07,"s":"C"},{"d":"2004-08-12","v":3020.19,"s":"C"},{"d":"2004-08-14","v":3020.10,"s":"C"},{"d":"2004-08-17","v":3019.96,"s":"C"},{"d":"2004-08-20","v":3019.89,"s":"C"},{"d":"2004-08-24","v":3019.96,"s":"C"},{"d":"2004-08-28","v":3019.96,"s":"C"},{"d":"2004-09-01","v":3019.89,"s":"C"},{"d":"2004-09-04","v":3019.99,"s":"C"},{"d":"2004-09-07","v":3020.12,"s":"C"},{"d":"2004-09-09","v":3020.03,"s":"C"},{"d":"2004-09-14","v":3019.89,"s":"C"},{"d":"2004-09-19","v":3019.78,"s":"C"},{"d":"2004-09-24","v":3019.70,"s":"C"},{"d":"2004-09-29","v":3019.67,"s":"C"},{"d":"2004-10-01","v":3019.70,"s":"C"},{"d":"2004-10-03","v":3019.96,"s":"C"},{"d":"2004-10-05","v":3019.81,"s":"C"},{"d":"2004-10-09","v":3019.78,"s":"C"},{"d":"2004-10-14","v":3019.70,"s":"C"},{"d":"2004-10-19","v":3019.67,"s":"C"},{"d":"2004-10-24","v":3019.63,"s":"C"},{"d":"2004-10-29","v":3019.59,"s":"C"},{"d":"2004-11-03","v":3019.56,"s":"C"},{"d":"2004-11-08","v":3019.48,"s":"C"},{"d":"2004-11-11","v":3019.52,"s":"C"},{"d":"2004-11-14","v":3019.56,"s":"C"},{"d":"2004-11-18","v":3019.51,"s":"C"},{"d":"2004-11-23","v":3019.41,"s":"C"},{"d":"2004-11-28","v":3019.34,"s":"C"},{"d":"2004-12-03","v":3019.30,"s":"C"},{"d":"2004-12-08","v":3019.27,"s":"C"},{"d":"2004-12-13","v":3019.19,"s":"C"},{"d":"2004-12-18","v":3019.08,"s":"C"},{"d":"2004-12-21","v":3018.94,"s":"C"},{"d":"2004-12-24","v":3018.83,"s":"C"},{"d":"2004-12-28","v":3018.79,"s":"C"},{"d":"2004-12-31","v":3018.81,"s":"C"},{"d":"2005-01-03","v":3018.72,"s":"C"},{"d":"2005-01-05","v":3018.94,"s":"C"},{"d":"2005-01-07","v":3019.24,"s":"C"},{"d":"2005-01-10","v":3019.17,"s":"C"},{"d":"2005-01-14","v":3019.08,"s":"C"},{"d":"2005-01-19","v":3018.97,"s":"C"},{"d":"2005-01-24","v":3018.87,"s":"C"},{"d":"2005-01-29","v":3018.78,"s":"C"},{"d":"2005-02-03","v":3018.68,"s":"C"},{"d":"2005-02-08","v":3018.61,"s":"C"},{"d":"2005-02-13","v":3018.57,"s":"C"},{"d":"2005-02-18","v":3018.56,"s":"C"},{"d":"2005-02-23","v":3018.61,"s":"C"},{"d":"2005-02-25","v":3018.66,"s":"C"},{"d":"2005-03-01","v":3018.59,"s":"C"},{"d":"2005-03-05","v":3018.56,"s":"C"},{"d":"2005-03-10","v":3018.50,"s":"C"},{"d":"2005-03-15","v":3018.50,"s":"C"},{"d":"2005-03-20","v":3018.49,"s":"C"},{"d":"2005-03-24","v":3018.50,"s":"C"},{"d":"2005-03-28","v":3018.54,"s":"C"},{"d":"2005-03-30","v":3018.68,"s":"C"},{"d":"2005-04-01","v":3018.43,"s":"C"},{"d":"2005-04-03","v":3018.39,"s":"C"},{"d":"2005-04-07","v":3018.54,"s":"C"},{"d":"2005-04-11","v":3018.76,"s":"C"},{"d":"2005-04-13","v":3018.65,"s":"C"},{"d":"2005-04-16","v":3018.68,"s":"C"},{"d":"2005-04-19","v":3018.65,"s":"C"},{"d":"2005-04-22","v":3018.83,"s":"C"},{"d":"2005-04-26","v":3019.01,"s":"C"},{"d":"2005-04-29","v":3019.23,"s":"C"},{"d":"2005-05-02","v":3019.27,"s":"C"},{"d":"2005-05-06","v":3019.27,"s":"C"},{"d":"2005-05-09","v":3019.34,"s":"C"},{"d":"2005-05-12","v":3019.41,"s":"C"},{"d":"2005-05-16","v":3019.89,"s":"C"},{"d":"2005-05-18","v":3020.25,"s":"C"},{"d":"2005-05-20","v":3020.72,"s":"C"},{"d":"2005-05-22","v":3020.47,"s":"C"},{"d":"2005-05-24","v":3020.40,"s":"C"},{"d":"2005-05-27","v":3020.21,"s":"C"},{"d":"2005-05-30","v":3020.10,"s":"C"},{"d":"2005-06-02","v":3020.03,"s":"C"},{"d":"2005-06-06","v":3020.03,"s":"C"},{"d":"2005-06-10","v":3019.96,"s":"C"},{"d":"2005-06-13","v":3019.92,"s":"C"},{"d":"2005-06-17","v":3019.85,"s":"C"},{"d":"2005-06-21","v":3019.81,"s":"C"},{"d":"2005-06-25","v":3019.70,"s":"C"},{"d":"2005-06-28","v":3019.59,"s":"C"},{"d":"2005-07-02","v":3019.52,"s":"C"},{"d":"2005-07-07","v":3019.51,"s":"C"},{"d":"2005-07-12","v":3019.54,"s":"C"},{"d":"2005-07-17","v":3019.59,"s":"C"},{"d":"2005-07-22","v":3019.67,"s":"C"},{"d":"2005-07-27","v":3019.78,"s":"C"},{"d":"2005-08-01","v":3019.85,"s":"C"},{"d":"2005-08-06","v":3019.87,"s":"C"},{"d":"2005-08-11","v":3019.85,"s":"C"},{"d":"2005-08-16","v":3019.89,"s":"C"},{"d":"2005-08-21","v":3019.87,"s":"C"},{"d":"2005-08-26","v":3019.86,"s":"C"},{"d":"2005-08-30","v":3019.87,"s":"C"},
{"d":"2004-02-15","v":3018.60,"s":"R"},{"d":"2004-02-20","v":3018.56,"s":"R"},{"d":"2004-02-25","v":3018.57,"s":"R"},{"d":"2004-02-29","v":3018.65,"s":"R"},{"d":"2004-03-04","v":3018.57,"s":"R"},{"d":"2004-03-09","v":3018.52,"s":"R"},{"d":"2004-03-14","v":3018.46,"s":"R"},{"d":"2004-03-19","v":3018.50,"s":"R"},{"d":"2004-03-23","v":3018.43,"s":"R"},{"d":"2004-03-27","v":3018.50,"s":"R"},{"d":"2004-03-31","v":3018.54,"s":"R"},{"d":"2004-04-02","v":3018.65,"s":"R"},{"d":"2004-04-05","v":3018.46,"s":"R"},{"d":"2004-04-08","v":3018.46,"s":"R"},{"d":"2004-04-10","v":3018.36,"s":"R"},{"d":"2004-04-13","v":3018.50,"s":"R"},{"d":"2004-04-15","v":3018.72,"s":"R"},{"d":"2004-04-18","v":3018.65,"s":"R"},{"d":"2004-04-20","v":3018.57,"s":"R"},{"d":"2004-04-24","v":3018.72,"s":"R"},{"d":"2004-04-26","v":3018.87,"s":"R"},{"d":"2004-04-29","v":3019.01,"s":"R"},{"d":"2004-05-01","v":3019.23,"s":"R"},{"d":"2004-05-04","v":3019.34,"s":"R"},{"d":"2004-05-08","v":3019.30,"s":"R"},{"d":"2004-05-11","v":3019.27,"s":"R"},{"d":"2004-05-15","v":3019.34,"s":"R"},{"d":"2004-05-19","v":3019.45,"s":"R"},{"d":"2004-05-22","v":3020.69,"s":"R"},{"d":"2004-05-24","v":3020.72,"s":"R"},{"d":"2004-05-26","v":3020.54,"s":"R"},{"d":"2004-05-28","v":3020.36,"s":"R"},{"d":"2004-05-31","v":3020.18,"s":"R"},{"d":"2004-06-03","v":3020.07,"s":"R"},{"d":"2004-06-06","v":3020.03,"s":"R"},{"d":"2004-06-10","v":3020.03,"s":"R"},{"d":"2004-06-14","v":3019.96,"s":"R"},{"d":"2004-06-17","v":3019.92,"s":"R"},{"d":"2004-06-21","v":3019.85,"s":"R"},{"d":"2004-06-25","v":3019.78,"s":"R"},{"d":"2004-06-29","v":3019.63,"s":"R"},{"d":"2004-07-02","v":3019.56,"s":"R"},{"d":"2004-07-06","v":3019.54,"s":"R"},{"d":"2004-07-10","v":3019.58,"s":"R"},{"d":"2004-07-14","v":3019.63,"s":"R"},{"d":"2004-07-18","v":3019.67,"s":"R"},{"d":"2004-07-23","v":3019.74,"s":"R"},{"d":"2004-07-28","v":3019.81,"s":"R"},{"d":"2004-08-02","v":3019.85,"s":"R"},{"d":"2004-08-07","v":3019.89,"s":"R"},{"d":"2004-08-12","v":3019.90,"s":"R"},{"d":"2004-08-17","v":3019.87,"s":"R"},{"d":"2004-08-22","v":3019.89,"s":"R"},{"d":"2004-08-27","v":3019.92,"s":"R"},{"d":"2004-08-29","v":3019.96,"s":"R"},
{"d":"2004-02-15","v":3017.87,"s":"O"},{"d":"2004-03-10","v":3017.82,"s":"O"},{"d":"2004-03-15","v":3017.91,"s":"O"},{"d":"2004-04-19","v":3017.79,"s":"O"},{"d":"2004-05-20","v":3018.87,"s":"O"},{"d":"2004-06-02","v":3019.34,"s":"O"},{"d":"2004-06-26","v":3019.21,"s":"O"},{"d":"2004-07-07","v":3019.47,"s":"O"},{"d":"2004-08-15","v":3020.03,"s":"O"},{"d":"2004-09-01","v":3019.86,"s":"O"},{"d":"2004-09-28","v":3019.67,"s":"O"},{"d":"2005-03-20","v":3018.46,"s":"O"},{"d":"2005-04-17","v":3018.56,"s":"O"},{"d":"2005-04-30","v":3019.14,"s":"O"},{"d":"2005-05-26","v":3020.29,"s":"O"},
{"d":"2004-03-24","v":3018.46,"s":"P"},{"d":"2004-04-20","v":3018.56,"s":"P"},{"d":"2004-05-04","v":3019.14,"s":"P"},{"d":"2004-05-29","v":3020.29,"s":"P"},{"d":"2004-08-30","v":3019.88,"s":"P"}
]
},
"spacing": -17,
"resolve": {"scale": {"color": "independent"}, "legend": {"color": "independent"}},
"vconcat": [
{"hconcat": [
 {"title": {"text": "Well #2A"}, "width": 473, "height": 192, "data": {"name": "w2a"},
  "encoding": {
   "x": {"field": "d", "type": "temporal", "title": "Date", "scale": {"domain": [{"year": 2004, "month": 1, "date": 1}, {"year": 2005, "month": 11, "date": 1}], "nice": false},
     "axis": {"tickCount": {"interval": "day", "step": 10}, "labelExpr": "date(datum.value)==1 && month(datum.value)%2==0 ? timeFormat(datum.value,'%b-%y') : ''", "labelAngle": -90, "labelOverlap": false, "labelFlush": false, "gridOpacity": {"condition": {"test": "date(datum.value)==1 && month(datum.value)%2==0", "value": 1}, "value": 0}}},
   "y": {"field": "v", "type": "quantitative", "title": "ft", "scale": {"domain": [3070, 3074], "nice": false, "zero": false},
     "axis": {"tickCount": 20, "labelExpr": "abs(datum.value-round(datum.value))<0.01 ? format(datum.value,'d') : ''", "labelOverlap": false, "gridOpacity": {"condition": {"test": "abs(datum.value-round(datum.value))<0.01", "value": 1}, "value": 0}}}
  },
  "layer": [
   {"transform": [{"filter": "datum.s=='C' || datum.s=='R'"}], "mark": {"type": "line", "strokeWidth": 2},
    "encoding": {"color": {"field": "s", "type": "nominal", "scale": {"domain": ["C", "O", "R"], "range": ["#000080", "#000080", "#FF0000"]},
      "legend": {"title": null, "columnPadding": 78, "labelExpr": "datum.value=='C' ? 'Continuous SWL' : datum.value=='O' ? 'Observed SWL' : 'Continuous SWL 2005'",
        "encode": {"symbols": {"update": {"shape": {"signal": "datum.value=='O' ? 'M-1.6,0L-0.6,0M0.6,0L1.6,0M0.6,0C0.6,0.33,0.33,0.6,0,0.6C-0.33,0.6,-0.6,0.33,-0.6,0C-0.6,-0.33,-0.33,-0.6,0,-0.6C0.33,-0.6,0.6,-0.33,0.6,0Z' : 'M-1.6,0L1.6,0'"}, "fill": {"signal": "datum.value=='O' ? 'white' : 'transparent'"}}}}}},
     "detail": {"field": "g"}}},
   {"transform": [{"filter": "datum.s=='O'"}], "mark": {"type": "line", "color": "#000080", "strokeWidth": 1.2}},
   {"transform": [{"filter": "datum.s=='P'"}], "mark": {"type": "line", "color": "#FF0000", "strokeWidth": 1}},
   {"transform": [{"filter": "datum.s=='O' || datum.s=='P'"}], "mark": {"type": "point", "shape": "circle", "filled": true, "fill": "white", "stroke": "black", "strokeWidth": 1, "size": 60, "opacity": 1}}
  ]},
 {"title": {"text": "Well FH#2"}, "width": 501, "height": 196, "data": {"name": "fh2"},
  "encoding": {
   "x": {"field": "d", "type": "temporal", "title": "Date", "scale": {"domain": [{"year": 2004, "month": 1, "date": 1}, {"year": 2005, "month": 11, "date": 1}], "nice": false},
     "axis": {"tickCount": {"interval": "day", "step": 10}, "labelExpr": "date(datum.value)==1 && month(datum.value)%2==0 ? timeFormat(datum.value,'%b-%y') : ''", "labelAngle": -90, "labelOverlap": false, "labelFlush": false, "gridOpacity": {"condition": {"test": "date(datum.value)==1 && month(datum.value)%2==0", "value": 1}, "value": 0}}},
   "y": {"field": "v", "type": "quantitative", "title": "ft", "scale": {"domain": [3050, 3057], "nice": false, "zero": false},
     "axis": {"tickCount": 35, "labelExpr": "abs(datum.value-round(datum.value))<0.01 ? format(datum.value,'d') : ''", "labelOverlap": false, "gridOpacity": {"condition": {"test": "abs(datum.value-round(datum.value))<0.01", "value": 1}, "value": 0}}}
  },
  "layer": [
   {"transform": [{"filter": "datum.s=='C' || datum.s=='R'"}], "mark": {"type": "line", "strokeWidth": 2},
    "encoding": {"color": {"field": "s", "type": "nominal", "scale": {"domain": ["C", "O", "R"], "range": ["#000080", "#000080", "#FF0000"]},
      "legend": {"title": null, "offset": 9, "labelExpr": "datum.value=='C' ? 'Continuous SWL' : datum.value=='O' ? 'Observed SWL' : 'Continuous SWL 2005'",
        "encode": {"symbols": {"update": {"shape": {"signal": "datum.value=='O' ? 'M-1.6,0L-0.6,0M0.6,0L1.6,0M0.6,0C0.6,0.33,0.33,0.6,0,0.6C-0.33,0.6,-0.6,0.33,-0.6,0C-0.6,-0.33,-0.33,-0.6,0,-0.6C0.33,-0.6,0.6,-0.33,0.6,0Z' : 'M-1.6,0L1.6,0'"}, "fill": {"signal": "datum.value=='O' ? 'white' : 'transparent'"}}}}}}}},
   {"transform": [{"filter": "datum.s=='O'"}], "mark": {"type": "line", "color": "#000080", "strokeWidth": 1.2}},
   {"transform": [{"filter": "datum.s=='P'"}], "mark": {"type": "line", "color": "#FF0000", "strokeWidth": 1}},
   {"transform": [{"filter": "datum.s=='O' || datum.s=='P'"}], "mark": {"type": "point", "shape": "circle", "filled": true, "fill": "white", "stroke": "black", "strokeWidth": 1, "size": 60, "opacity": 1}}
  ]}
], "spacing": 238, "resolve": {"scale": {"color": "independent"}, "legend": {"color": "independent"}}},
{"hconcat": [
 {"width": 194, "height": 152, "view": {"stroke": null}, "data": {"values": [{"t": "River"}]},
  "mark": {"type": "text", "fontSize": 52, "font": "Liberation Sans", "color": "black", "baseline": "middle"},
  "encoding": {"text": {"field": "t", "type": "nominal"}}},
 {"title": {"text": "Instream at Staff Gauge #4", "offset": 22}, "width": 522, "height": 193, "data": {"name": "sg4"},
  "encoding": {
   "x": {"field": "d", "type": "temporal", "title": "Date", "scale": {"domain": [{"year": 2004, "month": 1, "date": 1}, {"year": 2005, "month": 11, "date": 1}], "nice": false},
     "axis": {"tickCount": {"interval": "day", "step": 10}, "labelExpr": "date(datum.value)==1 && month(datum.value)%2==0 ? timeFormat(datum.value,'%b-%y') : ''", "labelAngle": -90, "labelOverlap": false, "labelFlush": false, "gridOpacity": {"condition": {"test": "date(datum.value)==1 && month(datum.value)%2==0", "value": 1}, "value": 0}}},
   "y": {"field": "v", "type": "quantitative", "title": "ft", "scale": {"domain": [3047, 3053], "nice": false, "zero": false},
     "axis": {"tickCount": 60, "labelExpr": "abs(datum.value-round(datum.value))<0.01 ? format(datum.value,'d') : ''", "labelOverlap": false, "gridOpacity": {"condition": {"test": "abs(datum.value-round(datum.value))<0.01", "value": 1}, "value": 0}}}
  },
  "layer": [
   {"transform": [{"filter": "datum.s=='C' || datum.s=='R'"}], "mark": {"type": "line", "strokeWidth": 2},
    "encoding": {"color": {"field": "s", "type": "nominal", "scale": {"domain": ["C", "O", "R"], "range": ["#000080", "#000000", "#FF0000"]},
      "legend": {"title": null, "labelExpr": "datum.value=='C' ? 'Continuous SWL' : datum.value=='O' ? 'SWL from SG #4' : 'Continuous SWL 2005'",
        "encode": {"symbols": {"update": {"shape": {"signal": "datum.value=='O' ? 'M-1.6,0L-0.6,0M0.6,0L1.6,0M0.6,0C0.6,0.33,0.33,0.6,0,0.6C-0.33,0.6,-0.6,0.33,-0.6,0C-0.6,-0.33,-0.33,-0.6,0,-0.6C0.33,-0.6,0.6,-0.33,0.6,0Z' : 'M-1.6,0L1.6,0'"}, "fill": {"signal": "datum.value=='O' ? 'white' : 'transparent'"}}}}}},
     "detail": {"field": "g"}}},
   {"transform": [{"filter": "datum.s=='O'"}], "mark": {"type": "line", "color": "#000000", "strokeWidth": 1.2}},
   {"transform": [{"filter": "datum.s=='P'"}], "mark": {"type": "line", "color": "#FF0000", "strokeWidth": 1}},
   {"transform": [{"filter": "datum.s=='O' || datum.s=='P'"}], "mark": {"type": "point", "shape": "circle", "filled": true, "fill": "white", "stroke": "black", "strokeWidth": 1, "size": 60, "opacity": 1}},
   {"data": {"name": "ann"}, "transform": [{"filter": "datum.k=='e1'"}], "mark": {"type": "point", "shape": "M1,0C1,0.253,0.552,0.458,0,0.458C-0.552,0.458,-1,0.253,-1,0C-1,-0.253,-0.552,-0.458,0,-0.458C0.552,-0.458,1,-0.253,1,0Z", "filled": false, "color": "black", "strokeWidth": 1.5, "size": 55696, "opacity": 1}},
   {"data": {"name": "ann"}, "transform": [{"filter": "datum.k=='e2'"}], "mark": {"type": "point", "shape": "M1,0C1,0.233,0.552,0.421,0,0.421C-0.552,0.421,-1,0.233,-1,0C-1,-0.233,-0.552,-0.421,0,-0.421C0.552,-0.421,1,-0.233,1,0Z", "filled": false, "color": "black", "strokeWidth": 5, "strokeDash": [20, 13], "size": 101124, "opacity": 1}},
   {"data": {"name": "ann"}, "transform": [{"filter": "datum.k=='arr'"}], "mark": {"type": "point", "shape": "M-0.94,0.04L-0.37,-0.35L-0.35,-0.1L0.94,-0.27L0.94,-0.06L-0.27,0.1L-0.27,0.35Z", "filled": true, "color": "black", "size": 9216, "opacity": 1}},
   {"data": {"name": "ann"}, "transform": [{"filter": "datum.k=='dbl'"}], "mark": {"type": "point", "shape": "M0,-1L0.31,-0.48L0.12,-0.48L0.12,0.48L0.31,0.48L0,1L-0.31,0.48L-0.12,0.48L-0.12,-0.48L-0.31,-0.48Z", "filled": true, "color": "#B4B4B4", "size": 3364, "opacity": 1}},
   {"data": {"name": "ann"}, "transform": [{"filter": "datum.k=='txt'"}], "mark": {"type": "text", "fontSize": 25, "font": "Liberation Sans", "color": "black", "baseline": "middle"}, "encoding": {"text": {"field": "t", "type": "nominal"}}}
  ]}
], "spacing": 131, "resolve": {"scale": {"color": "independent"}, "legend": {"color": "independent"}}},
{"hconcat": [
 {"title": {"text": "Well #5A"}, "width": 489, "height": 186, "data": {"name": "w5a"},
  "encoding": {
   "x": {"field": "d", "type": "temporal", "title": "Date", "scale": {"domain": [{"year": 2004, "month": 1, "date": 1}, {"year": 2005, "month": 11, "date": 1}], "nice": false},
     "axis": {"tickCount": {"interval": "day", "step": 10}, "labelExpr": "date(datum.value)==1 && month(datum.value)%2==0 ? timeFormat(datum.value,'%b-%y') : ''", "labelAngle": -90, "labelOverlap": false, "labelFlush": false, "gridOpacity": {"condition": {"test": "date(datum.value)==1 && month(datum.value)%2==0", "value": 1}, "value": 0}}},
   "y": {"field": "v", "type": "quantitative", "title": "ft", "scale": {"domain": [3037, 3041], "nice": false, "zero": false},
     "axis": {"tickCount": 20, "labelExpr": "abs(datum.value-round(datum.value))<0.01 ? format(datum.value,'d') : ''", "labelOverlap": false, "gridOpacity": {"condition": {"test": "abs(datum.value-round(datum.value))<0.01", "value": 1}, "value": 0}}}
  },
  "layer": [
   {"transform": [{"filter": "datum.s=='C' || datum.s=='R'"}], "mark": {"type": "line", "strokeWidth": 2},
    "encoding": {"color": {"field": "s", "type": "nominal", "scale": {"domain": ["C", "O", "R"], "range": ["#000080", "#000000", "#FF0000"]},
      "legend": {"title": null, "offset": 10, "labelExpr": "datum.value=='C' ? 'Continuous SWL' : datum.value=='O' ? 'Observed SWL' : 'Continuous SWL 2005'",
        "encode": {"symbols": {"update": {"shape": {"signal": "datum.value!='C' ? 'M-1.6,0L-0.6,0M0.6,0L1.6,0M0.6,0C0.6,0.33,0.33,0.6,0,0.6C-0.33,0.6,-0.6,0.33,-0.6,0C-0.6,-0.33,-0.33,-0.6,0,-0.6C0.33,-0.6,0.6,-0.33,0.6,0Z' : 'M-1.6,0L1.6,0'"}, "fill": {"signal": "datum.value!='C' ? 'white' : 'transparent'"}}}}}}}},
   {"transform": [{"filter": "datum.s=='O'"}], "mark": {"type": "line", "color": "#000000", "strokeWidth": 1.2}},
   {"transform": [{"filter": "datum.s=='P'"}], "mark": {"type": "line", "color": "#FF0000", "strokeWidth": 1}},
   {"transform": [{"filter": "datum.s=='O' || datum.s=='P'"}], "mark": {"type": "point", "shape": "circle", "filled": true, "fill": "white", "stroke": "black", "strokeWidth": 1, "size": 60, "opacity": 1}}
  ]},
 {"title": {"text": "Well 8B"}, "width": 494, "height": 183, "data": {"name": "w8b"},
  "encoding": {
   "x": {"field": "d", "type": "temporal", "title": "Date", "scale": {"domain": [{"year": 2004, "month": 2, "date": 1}, {"year": 2005, "month": 10, "date": 1}], "nice": false},
     "axis": {"tickCount": {"interval": "day", "step": 10}, "labelExpr": "date(datum.value)==1 && month(datum.value)%2==1 ? timeFormat(datum.value,'%b-%y') : ''", "labelAngle": -90, "labelOverlap": false, "labelFlush": false, "gridOpacity": {"condition": {"test": "date(datum.value)==1 && month(datum.value)%2==1", "value": 1}, "value": 0}}},
   "y": {"field": "v", "type": "quantitative", "title": "ft", "scale": {"domain": [3017, 3021], "nice": false, "zero": false},
     "axis": {"tickCount": 20, "labelExpr": "abs(datum.value-round(datum.value))<0.01 ? format(datum.value,'d') : ''", "labelOverlap": false, "gridOpacity": {"condition": {"test": "abs(datum.value-round(datum.value))<0.01", "value": 1}, "value": 0}}}
  },
  "layer": [
   {"transform": [{"filter": "datum.s=='C' || datum.s=='R'"}], "mark": {"type": "line", "strokeWidth": 2},
    "encoding": {"color": {"field": "s", "type": "nominal", "scale": {"domain": ["C", "O", "R"], "range": ["#000080", "#3C3CA0", "#FF0000"]},
      "legend": {"title": null, "offset": 10, "labelExpr": "datum.value=='C' ? 'Continuous SWL' : datum.value=='O' ? 'Observed SWL' : 'Continuous SWL 2005'",
        "encode": {"symbols": {"update": {"shape": {"signal": "datum.value=='O' ? 'M-1.6,0L-0.6,0M0.6,0L1.6,0M0.6,0C0.6,0.33,0.33,0.6,0,0.6C-0.33,0.6,-0.6,0.33,-0.6,0C-0.6,-0.33,-0.33,-0.6,0,-0.6C0.33,-0.6,0.6,-0.33,0.6,0Z' : 'M-1.6,0L1.6,0'"}, "fill": {"signal": "datum.value=='O' ? 'white' : 'transparent'"}}}}}}}},
   {"transform": [{"filter": "datum.s=='O'"}], "mark": {"type": "line", "color": "#3C3CA0", "strokeWidth": 1.2}},
   {"transform": [{"filter": "datum.s=='P'"}], "mark": {"type": "line", "color": "#FF0000", "strokeWidth": 1}},
   {"transform": [{"filter": "datum.s=='O' || datum.s=='P'"}], "mark": {"type": "point", "shape": "circle", "filled": true, "fill": "white", "stroke": "black", "strokeWidth": 1, "size": 60, "opacity": 1}}
  ]}
], "spacing": 211, "resolve": {"scale": {"color": "independent"}, "legend": {"color": "independent"}}}
]
}
